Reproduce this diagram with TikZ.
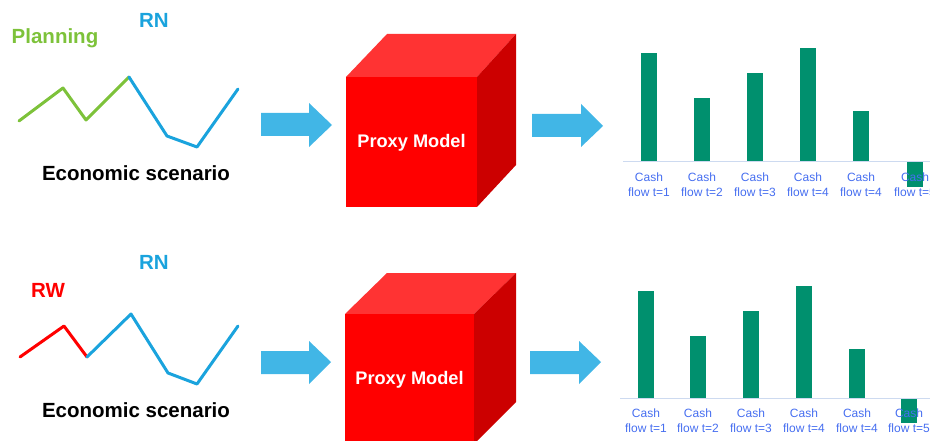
\documentclass[tikz,border=0pt]{standalone}
\usepackage{fontspec}
\setmainfont{Liberation Sans}
\definecolor{plangreen}{RGB}{125,194,58}
\definecolor{rnblue}{RGB}{26,163,221}
\definecolor{rwred}{RGB}{255,0,0}
\definecolor{arrowblue}{RGB}{65,182,230}
\definecolor{barteal}{RGB}{0,144,110}
\definecolor{labelblue}{RGB}{70,110,240}
\definecolor{axisgrey}{RGB}{205,218,240}
\definecolor{cubefront}{RGB}{255,0,0}
\definecolor{cubetop}{RGB}{255,51,51}
\definecolor{cuberight}{RGB}{204,0,0}
\tikzset{
  bigtext/.style={font=\fontsize{20.5}{24}\selectfont\bfseries, inner sep=0pt},
  proxytext/.style={font=\fontsize{18.2}{22}\selectfont\bfseries, text=white, inner sep=0pt},
  cflabel/.style={font=\fontsize{12}{15}\selectfont, text=labelblue, inner sep=0pt, align=center},
  scen/.style={line width=3pt, line join=round, line cap=round},
  blockarrow/.style={fill=arrowblue, draw=none},
  bar/.style={fill=barteal, draw=none},
  axisline/.style={draw=axisgrey, line width=1pt}
}
\begin{document}
\begin{tikzpicture}[x=1pt,y=-1pt]
\useasboundingbox (0,0) rectangle (930,441);
\clip (0,0) rectangle (930,441);

% ---------- TOP ROW ----------
\node[bigtext, text=plangreen] (plan) at (55,38) {Planning};
\node[bigtext, text=rnblue] (rn1) at (154,20) {RN};
\draw[scen, plangreen] (19,121) -- (63,88) -- (86,120) -- (129,77);
\draw[scen, rnblue] (129,77) -- (167,136) -- (197,147) -- (238,89);
\node[bigtext, text=black] (eco1) at (136,173) {Economic scenario};

\fill[blockarrow] (261,113) -- (309,113) -- (309,103) -- (332,125) -- (309,147) -- (309,136) -- (261,136) -- cycle;

% cube 1
\fill[cubetop] (346,77) -- (387,34) -- (516,34) -- (477,77) -- cycle;
\fill[cuberight] (477,77) -- (516,34) -- (516,165) -- (477,207) -- cycle;
\fill[cubefront] (346,77) rectangle (477,207);
\node[proxytext] (proxy1) at (411.5,143) {Proxy Model};

\fill[blockarrow] (532,114) -- (581,114) -- (581,104) -- (603,126) -- (581,147) -- (581,137) -- (532,137) -- cycle;

% chart 1
\draw[axisline] (623,162) -- (930,162);
\foreach \cx/\top/\lab in {649/53/1, 702/98/2, 755/73/3, 808/48/4, 861/111/4}{
  \fill[bar] (\cx-8,\top) rectangle (\cx+8,161.5);
  \node[cflabel] at (\cx,177) {Cash};
  \node[cflabel] at (\cx,192) {flow t=\lab};
}
\fill[bar] (907,162.5) rectangle (923,187);
\node[cflabel] (c6) at (915,177) {Cash};
\node[cflabel] (f6) at (915,192) {flow t=5};

% ---------- BOTTOM ROW ----------
\node[bigtext, text=rwred] (rw) at (48,290) {RW};
\node[bigtext, text=rnblue] (rn2) at (154,262) {RN};
\draw[scen, rwred] (20,357) -- (64,326) -- (87,357);
\draw[scen, rnblue] (87,357) -- (131,314) -- (168,373) -- (197,384) -- (238,326);
\node[bigtext, text=black] (eco2) at (136,410) {Economic scenario};

\fill[blockarrow] (261,351) -- (309,351) -- (309,341) -- (331,362) -- (309,384) -- (309,374) -- (261,374) -- cycle;

% cube 2
\fill[cubetop] (345,314) -- (387,273) -- (516,273) -- (474,314) -- cycle;
\fill[cuberight] (474,314) -- (516,273) -- (516,402) -- (474,444) -- cycle;
\fill[cubefront] (345,314) rectangle (474,444);
\node[proxytext] (proxy2) at (409.5,380) {Proxy Model};

\fill[blockarrow] (530,351) -- (579,351) -- (579,341) -- (601,362) -- (579,384) -- (579,374) -- (530,374) -- cycle;

% chart 2
\draw[axisline] (620,398) -- (930,398);
\foreach \cx/\top/\lab in {646/291/1, 698/336/2, 751/311/3, 804/286/4, 857/349/4}{
  \fill[bar] (\cx-8,\top) rectangle (\cx+8,397.5);
  \node[cflabel] at (\cx,413) {Cash};
  \node[cflabel] at (\cx,428) {flow t=\lab};
}
\fill[bar] (901,398.5) rectangle (917,423);
\node[cflabel] (c12) at (909,413) {Cash};
\node[cflabel] (f12) at (909,428) {flow t=5};
\end{tikzpicture}
\end{document}
